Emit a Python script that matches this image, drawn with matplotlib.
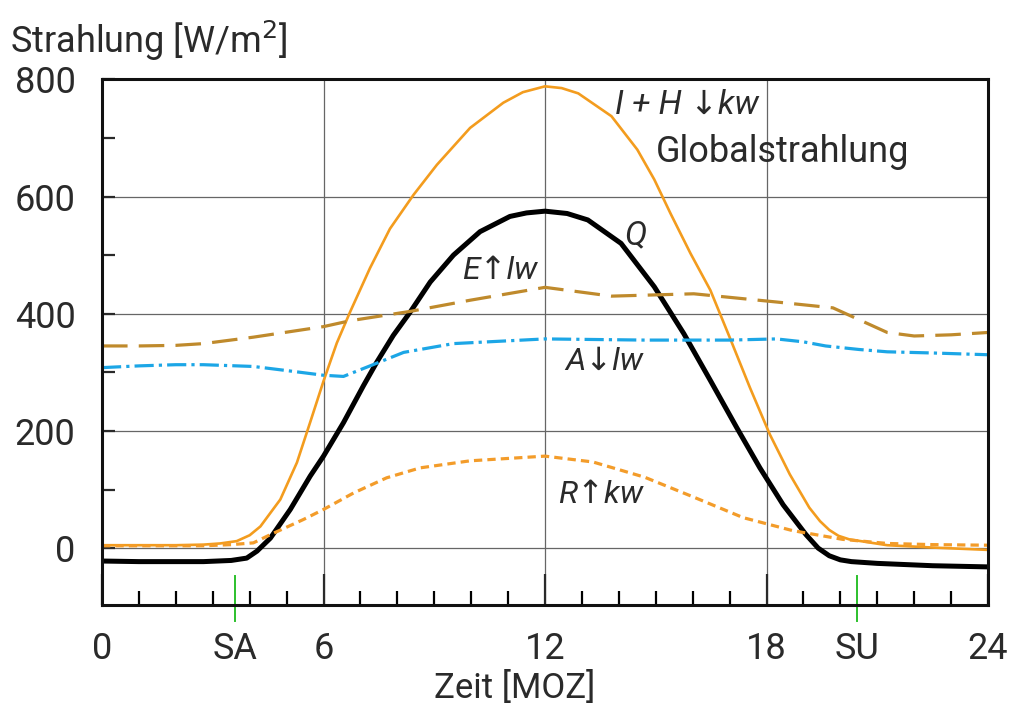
import matplotlib.pyplot as plt
from matplotlib.ticker import MultipleLocator

plt.rcParams['font.family'] = ['Roboto', 'DejaVu Sans']

# hours of the day / radiation in W/m2
t_global = [0, 1, 2, 2.75, 3.2, 3.65, 4.0, 4.29, 4.83, 5.28, 5.64, 6.0, 6.36, 6.72, 7.26,
            7.8, 8.44, 9.07, 9.97, 10.87, 11.4, 12.0, 12.45, 12.9, 13.8, 14.5, 14.96,
            15.4, 15.94, 16.48, 17.0, 17.55, 18.09, 18.63, 19.16, 19.45, 19.7, 19.95,
            20.24, 21.27, 22.5, 24]
global_rad = [5, 5, 5, 6, 8, 12, 22, 37, 83, 146, 215, 285, 350, 403, 478,
              545, 603, 654, 717, 760, 778, 788, 785, 776, 737, 680, 629,
              571, 503, 440, 360, 274, 194, 126, 69, 46, 31, 21,
              15, 5, 1, -3]

t_q = [0, 1, 2, 2.75, 3.5, 3.92, 4.2, 4.56, 5.1, 5.64, 6.0, 6.54, 7.08, 7.44, 7.89, 8.35,
       8.89, 9.52, 10.24, 11.05, 11.5, 12, 12.6, 13.16, 14.06, 14.96, 15.76, 16.48, 17.19,
       17.82, 18.45, 19.07, 19.4, 19.7, 20.0, 20.3, 21, 22.5, 24]
q_rad = [-22, -23, -23, -23, -21, -17, -5, 17, 66, 123, 157, 214, 277, 317, 363, 403,
         454, 500, 540, 566, 572, 575, 571, 560, 520, 446, 366, 286, 206,
         137, 74, 23, 0, -13, -20, -23, -26, -30, -32]

t_e = [0, 1, 2, 2.75, 4.1, 6.0, 6.72, 8.35, 9.97, 12, 13.8, 16.03, 18.27, 19.8, 20.5,
       21.27, 22, 23, 24]
e_rad = [345, 345, 346, 349, 360, 378, 388, 404, 423, 445, 430, 434, 420, 410, 390,
         368, 362, 364, 368]

t_a = [0, 1, 2, 2.75, 4.1, 5.0, 6.0, 6.54, 7.26, 8.17, 9.52, 12, 14.7, 17, 18.27, 19.0,
       19.6, 20.5, 21.27, 22.5, 24]
a_rad = [308, 311, 313, 313, 310, 303, 295, 293, 311, 334, 349, 357, 355, 355, 357, 352,
         345, 339, 335, 333, 330]

t_r = [0, 1, 2, 2.75, 3.5, 4.1, 4.56, 5.46, 6.0, 6.81, 7.71, 8.62, 9.97, 12, 13.3, 14.7,
       16.03, 17.37, 18.7, 20.06, 21.27, 22.5, 24]
r_rad = [4, 4, 4, 4, 6, 9, 23, 49, 66, 94, 120, 137, 149, 157, 147, 121,
         87, 52, 30, 15, 8, 6, 5]

sunrise = 3.6
sunset = 20.45
hour_ticks = [0, 6, 12, 18, 24]
rad_ticks = [0, 200, 400, 600, 800]
text_color = '#2a2a2a'

fig = plt.figure(figsize=(10.12, 7.08), dpi=100)
ax = fig.add_axes([0.1008, 0.1455, 0.8755, 0.7425])

ax.plot(t_global, global_rad, color='#F39C1E', lw=1.9)
ax.plot(t_q, q_rad, color='black', lw=3.6)
ax.plot(t_e, e_rad, color='#BF8A2C', lw=2.3, dashes=(8, 3.5))
ax.plot(t_a, a_rad, color='#1CA6E6', lw=2.3, dashes=(6, 1.6, 1, 1.6))
ax.plot(t_r, r_rad, color='#F39C2A', lw=2.3, dashes=(2.6, 1.6))

ax.set_xlim(0, 24)
ax.set_ylim(-97, 800)
ax.set_xticks(hour_ticks)
ax.set_xticklabels(['0', '6', '12', '18', '24'])
ax.set_yticks(rad_ticks)
ax.xaxis.set_minor_locator(MultipleLocator(1))
ax.yaxis.set_minor_locator(MultipleLocator(100))
ax.tick_params(axis='x', which='major', direction='in', length=22, width=1.6, pad=19,
               labelsize=26, colors=text_color)
ax.tick_params(axis='x', which='minor', direction='in', length=10, width=1.6)
ax.tick_params(axis='y', which='both', direction='in', length=9, width=1.6, pad=19,
               labelsize=26, colors=text_color)
ax.tick_params(top=False, right=False)
ax.grid(True, which='major', color='#666666', lw=0.9)
ax.set_axisbelow(True)
for s in ax.spines.values():
    s.set_linewidth(2.2)
    s.set_color('#111111')

# sunrise / sunset markers and labels
for h, lab in [(sunrise, 'SA'), (sunset, 'SU')]:
    ax.plot([h, h], [-48, -125], color='#2CC02C', lw=1.4, clip_on=False)
    ax.annotate(lab, xy=(h, 0), xycoords=('data', 'axes fraction'), xytext=(0, -19),
                textcoords='offset points', ha='center', va='top', fontsize=26,
                color=text_color)

fig.text(10 / 1012, 0.925, 'Strahlung [W/m$^2$]', fontsize=26, color=text_color,
         ha='left', va='baseline')
fig.text(0.509, 0.004, 'Zeit [MOZ]', fontsize=25, color=text_color, ha='center',
         va='bottom')

ax.text(13.9, 757, 'I + H ↓kw', fontsize=24, style='italic', color=text_color, va='center')
ax.text(15.0, 676, 'Globalstrahlung', fontsize=26, color=text_color, va='center')
ax.text(14.15, 533, 'Q', fontsize=24, style='italic', color=text_color, va='center')
ax.text(9.75, 473, 'E↑lw', fontsize=23, style='italic', color=text_color, va='center')
ax.text(12.55, 318, 'A↓lw', fontsize=23, style='italic', color=text_color, va='center')
ax.text(12.35, 92, 'R↑kw', fontsize=23, style='italic', color=text_color, va='center')

fig.savefig('out.png', dpi=100)
